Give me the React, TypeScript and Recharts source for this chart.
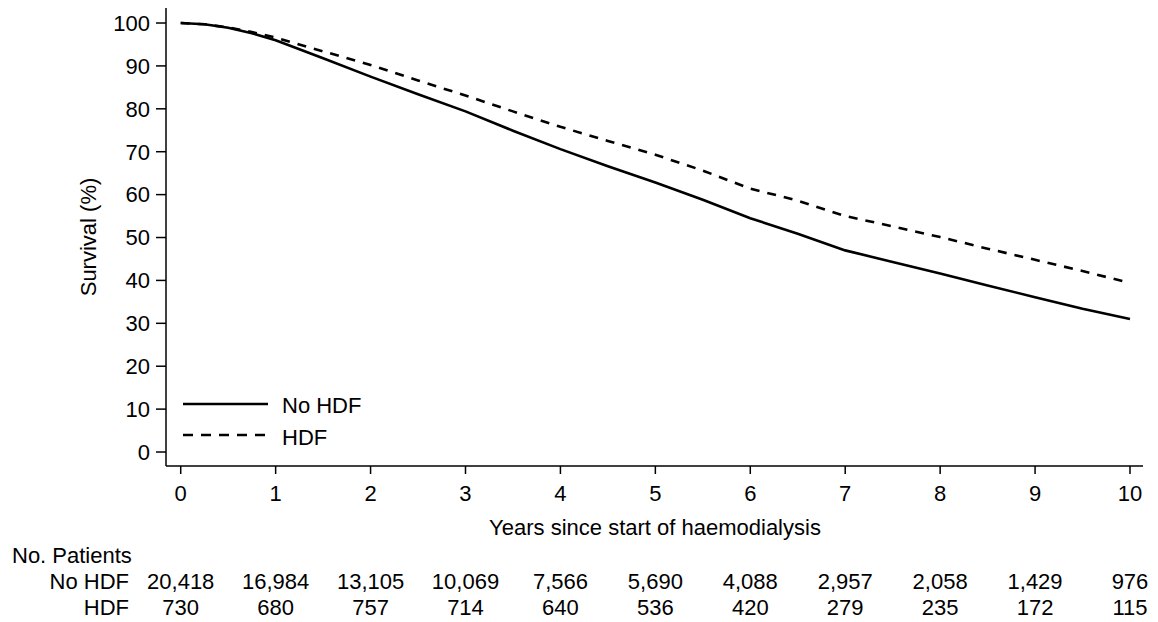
import React from 'react';
import { LineChart, Line, XAxis, YAxis, Legend } from 'recharts';

const years = [0, 0.25, 0.5, 0.75, 1, 1.5, 2, 2.5, 3, 3.5, 4, 4.5, 5, 5.5, 6, 6.5, 7, 7.5, 8, 8.5, 9, 9.5, 10];
const noHdf = [100, 99.7, 98.9, 97.6, 96.0, 91.8, 87.5, 83.4, 79.4, 74.9, 70.6, 66.6, 62.8, 58.8, 54.5, 50.9, 47.0, 44.3, 41.6, 38.8, 36.1, 33.4, 31.0];
const hdf = [100, 99.7, 99.0, 97.9, 96.6, 93.4, 90.2, 86.6, 83.1, 79.4, 75.8, 72.5, 69.3, 65.6, 61.4, 58.6, 55.0, 52.6, 50.1, 47.4, 44.8, 42.2, 39.4];

const xTicks = [0, 1, 2, 3, 4, 5, 6, 7, 8, 9, 10];
const yTicks = [0, 10, 20, 30, 40, 50, 60, 70, 80, 90, 100];
const patientsNoHdf = ['20,418', '16,984', '13,105', '10,069', '7,566', '5,690', '4,088', '2,957', '2,058', '1,429', '976'];
const patientsHdf = ['730', '680', '757', '714', '640', '536', '420', '279', '235', '172', '115'];

const data = years.map((t, i) => ({ t, noHdf: noHdf[i], hdf: hdf[i] }));

const FONT = '"Liberation Sans", Arial, sans-serif';
const FS = 22;

const XTick = (props: any) => {
  const { x, y, payload } = props;
  const idx = xTicks.indexOf(payload.value);
  return (
    <g>
      <text x={x} y={y + 19} dy="0.35em" textAnchor="middle" fontSize={FS} fontFamily={FONT} fill="#000">
        {payload.value}
      </text>
      <text x={x} y={y + 107} dy="0.35em" textAnchor="middle" fontSize={FS} fontFamily={FONT} fill="#000">
        {patientsNoHdf[idx]}
      </text>
      <text x={x} y={y + 133} dy="0.35em" textAnchor="middle" fontSize={FS} fontFamily={FONT} fill="#000">
        {patientsHdf[idx]}
      </text>
    </g>
  );
};

const LegendContent = () => (
  <svg width={200} height={70} style={{ display: 'block' }}>
    <line x1={3} x2={88} y1={16} y2={16} stroke="#000" strokeWidth={2.5} />
    <text x={102} y={17} dy="0.35em" fontSize={FS} fontFamily={FONT} fill="#000">No HDF</text>
    <line x1={3} x2={88} y1={47} y2={47} stroke="#000" strokeWidth={2.5} strokeDasharray="10 8" />
    <text x={102} y={49} dy="0.35em" fontSize={FS} fontFamily={FONT} fill="#000">HDF</text>
  </svg>
);

export default function App() {
  return (
    <div style={{ position: 'absolute', left: 0, top: 0, width: 1158, height: 622, background: '#fff' }}>
      <LineChart width={1158} height={622} data={data} margin={{ top: 8, right: 15, left: 0, bottom: 0 }}>
        <XAxis
          dataKey="t"
          type="number"
          domain={[-0.155, 10.137]}
          ticks={xTicks}
          allowDataOverflow
          height={156}
          tickSize={8}
          tickMargin={0}
          stroke="#000"
          strokeWidth={1.5}
          tickLine={{ stroke: '#000', strokeWidth: 1.5 }}
          tick={<XTick />}
          interval={0}
        />
        <YAxis
          type="number"
          domain={[-3.26, 103.5]}
          ticks={yTicks}
          allowDataOverflow
          width={166}
          tickSize={10}
          tickMargin={6}
          stroke="#000"
          strokeWidth={1.5}
          tickLine={{ stroke: '#000', strokeWidth: 1.5 }}
          tick={{ fontSize: FS, fontFamily: FONT, fill: '#000' }}
          interval={0}
        />
        <Legend
          layout="horizontal"
          verticalAlign="middle"
          align="center"
          content={<LegendContent />}
          wrapperStyle={{ left: 180, top: 388, width: 200, height: 70 }}
        />
        <Line type="linear" dataKey="noHdf" name="No HDF" stroke="#000" strokeWidth={2.6} dot={false} isAnimationActive={false} />
        <Line type="linear" dataKey="hdf" name="HDF" stroke="#000" strokeWidth={2.6} strokeDasharray="9 8" dot={false} isAnimationActive={false} />
      </LineChart>
      <svg width={1158} height={622} style={{ position: 'absolute', left: 0, top: 0, pointerEvents: 'none' }}>
        <text x={88} y={237} dy="0.35em" textAnchor="middle" fontSize={FS} fontFamily={FONT} fill="#000" transform="rotate(-90 88 237)">
          Survival (%)
        </text>
        <text x={655} y={527} dy="0.35em" textAnchor="middle" fontSize={FS} fontFamily={FONT} fill="#000">
          Years since start of haemodialysis
        </text>
        <text x={12} y={555} dy="0.35em" textAnchor="start" fontSize={FS} fontFamily={FONT} fill="#000">
          No. Patients
        </text>
        <text x={129} y={581} dy="0.35em" textAnchor="end" fontSize={FS} fontFamily={FONT} fill="#000">
          No HDF
        </text>
        <text x={129} y={607} dy="0.35em" textAnchor="end" fontSize={FS} fontFamily={FONT} fill="#000">
          HDF
        </text>
      </svg>
    </div>
  );
}
